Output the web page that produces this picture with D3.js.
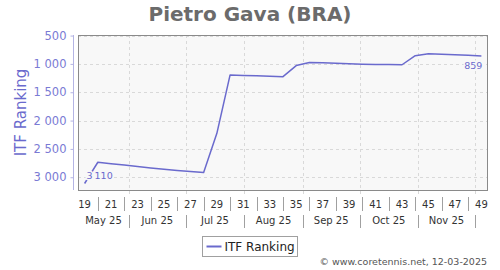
<!DOCTYPE html>
<html>
<head>
<meta charset="utf-8">
<script src="https://cdn.jsdelivr.net/npm/d3@7"></script>
<style>
  body { margin: 0; background: #fff; }
  svg { display: block; font-family: "DejaVu Sans", sans-serif; }
</style>
</head>
<body>
<svg id="chart" width="500" height="270"></svg>
<script>
const TITLE = "Pietro Gava (BRA)";
const Y_LABEL = "ITF Ranking";
const CREDIT = "© www.coretennis.net, 12-03-2025";

// ISO weeks of 2025
const weeks = [19, 20, 21, 22, 23, 24, 25, 26, 27, 28, 29, 30, 31, 32, 33, 34,
  35, 36, 37, 38, 39, 40, 41, 42, 43, 44, 45, 46, 47, 48, 49];
const ranking = [3110, 2735, 2760, 2785, 2810, 2835, 2860, 2880, 2900, 2915, 2225,
  1195, 1203, 1210, 1217, 1225, 1030, 975, 978, 990, 998, 1005, 1010, 1012, 1015,
  855, 822, 830, 840, 848, 859];
const yTicks = [500, 1000, 1500, 2000, 2500, 3000];
const monthLabels = ["May 25", "Jun 25", "Jul 25", "Aug 25", "Sep 25", "Oct 25", "Nov 25"];
const monthStarts = ["2025-05-01", "2025-06-01", "2025-07-01", "2025-08-01",
  "2025-09-01", "2025-10-01", "2025-11-01", "2025-12-01"];

const width = 500;
const height = 270;
const marginLeft = 78;
const marginRight = 12;
const marginTop = 35;
const plotBottom = 190;
const lineColor = "#6a6acd";

// middle of an ISO week (thursday noon)
const weekMid = (w) => new Date(2024, 11, 30 + (w - 1) * 7 + 3, 12);
const weekStart = (w) => new Date(2024, 11, 30 + (w - 1) * 7);
const parseDay = d3.timeParse("%Y-%m-%d");

const data = weeks.map((w, i) => ({ week: w, date: weekMid(w), value: ranking[i] }));

const svg = d3.select("#chart");

const x = d3
  .scaleTime()
  .domain([weekStart(weeks[0]), weekStart(weeks[weeks.length - 1] + 1)])
  .range([marginLeft, width - marginRight]);

const y = d3
  .scaleLinear()
  .domain([490, 3225])
  .range([marginTop, plotBottom]);

const fmt = (v) => d3.format(",")(v).replace(/,/g, " ");
const fmtThin = (v) => d3.format(",")(v).replace(/,/g, "\u2009");

// title
svg
  .append("text")
  .attr("x", width / 2)
  .attr("y", 21)
  .attr("text-anchor", "middle")
  .attr("font-size", 20)
  .attr("font-weight", "bold")
  .attr("fill", "#6b6b6b")
  .text(TITLE);

// plot background
svg
  .append("rect")
  .attr("x", marginLeft)
  .attr("y", marginTop)
  .attr("width", width - marginRight - marginLeft)
  .attr("height", plotBottom - marginTop)
  .attr("fill", "#f8f8f8");

// grid
const grid = svg
  .append("g")
  .attr("stroke", "#d9d9d9")
  .attr("stroke-dasharray", "3,3")
  .attr("stroke-width", 1);

grid
  .selectAll("line.h")
  .data(yTicks)
  .join("line")
  .attr("class", "h")
  .attr("x1", marginLeft)
  .attr("x2", width - marginRight)
  .attr("y1", (d) => Math.round(y(d)) + 0.5)
  .attr("y2", (d) => Math.round(y(d)) + 0.5);

const monthDates = monthStarts.map(parseDay);
const visibleMonths = monthDates.filter((d) => x(d) > marginLeft && x(d) < width - marginRight);

grid
  .selectAll("line.v")
  .data(visibleMonths)
  .join("line")
  .attr("class", "v")
  .attr("x1", (d) => Math.round(x(d)) + 0.5)
  .attr("x2", (d) => Math.round(x(d)) + 0.5)
  .attr("y1", marginTop)
  .attr("y2", plotBottom + 7);

// frame
svg
  .append("rect")
  .attr("x", marginLeft + 0.5)
  .attr("y", marginTop + 0.5)
  .attr("width", width - marginRight - marginLeft - 1)
  .attr("height", plotBottom - marginTop)
  .attr("fill", "none")
  .attr("stroke", "#8a8a8a");

// y axis
const yAxis = svg
  .append("g")
  .attr("transform", `translate(73.5,0)`)
  .call(d3.axisLeft(y).tickValues(yTicks).tickSize(3).tickPadding(4).tickFormat(fmt));
yAxis.select(".domain").attr("stroke", "#b4b4e4").attr("d", `M0,${marginTop}V${plotBottom}`);
yAxis.selectAll(".tick line").attr("stroke", "#b4b4e4");
yAxis
  .selectAll(".tick text")
  .attr("fill", "#7a7ad4")
  .attr("font-size", 11.5)
  .attr("font-family", "DejaVu Sans");

svg
  .append("text")
  .attr("transform", `translate(26,${(marginTop + plotBottom) / 2}) rotate(-90)`)
  .attr("text-anchor", "middle")
  .attr("font-size", 15)
  .attr("fill", lineColor)
  .text(Y_LABEL);

// x axis: week numbers
const xAxis = svg.append("g");
const labelWeeks = weeks.filter((w) => w % 2 === 1);
const sepWeeks = weeks.filter((w) => w % 2 === 0);

xAxis
  .selectAll("text.week")
  .data(labelWeeks)
  .join("text")
  .attr("class", "week")
  .attr("x", (w) => x(weekMid(w)))
  .attr("y", 208)
  .attr("text-anchor", "middle")
  .attr("font-size", 10)
  .attr("fill", "#333")
  .text((w) => w);

xAxis
  .selectAll("line.wsep")
  .data(sepWeeks)
  .join("line")
  .attr("class", "wsep")
  .attr("x1", (w) => Math.round(x(weekMid(w))) + 0.5)
  .attr("x2", (w) => Math.round(x(weekMid(w))) + 0.5)
  .attr("y1", 197)
  .attr("y2", 211)
  .attr("stroke", "#a0a0a0");

// x axis: months
const months = monthLabels.map((label, i) => {
  const a = Math.max(x(monthDates[i]), marginLeft);
  const b = Math.min(x(monthDates[i + 1]), width - marginRight);
  return { label, mid: (a + b) / 2 };
});

xAxis
  .selectAll("text.month")
  .data(months)
  .join("text")
  .attr("class", "month")
  .attr("x", (d) => d.mid)
  .attr("y", 224)
  .attr("text-anchor", "middle")
  .attr("font-size", 10)
  .attr("fill", "#333")
  .text((d) => d.label);

xAxis
  .selectAll("line.msep")
  .data(visibleMonths)
  .join("line")
  .attr("class", "msep")
  .attr("x1", (d) => Math.round(x(d)) + 0.5)
  .attr("x2", (d) => Math.round(x(d)) + 0.5)
  .attr("y1", 215)
  .attr("y2", 228)
  .attr("stroke", "#a0a0a0");

// line
const line = d3
  .line()
  .x((d) => x(d.date))
  .y((d) => y(d.value));

svg
  .append("path")
  .datum(data)
  .attr("fill", "none")
  .attr("stroke", lineColor)
  .attr("stroke-width", 1.5)
  .attr("stroke-linejoin", "round")
  .attr("d", line);

// first / last value labels
const first = data[0];
const last = data[data.length - 1];
const valueLabels = [
  { d: first, anchor: "start", dx: 2, dy: -4 },
  { d: last, anchor: "end", dx: 1, dy: 13 },
];
svg
  .selectAll("text.vlabel")
  .data(valueLabels)
  .join("text")
  .attr("class", "vlabel")
  .attr("x", (l) => x(l.d.date) + l.dx)
  .attr("y", (l) => y(l.d.value) + l.dy)
  .attr("text-anchor", (l) => l.anchor)
  .attr("font-size", 9.5)
  .attr("fill", lineColor)
  .attr("stroke", "#f8f8f8")
  .attr("stroke-width", 3)
  .attr("paint-order", "stroke")
  .text((l) => fmtThin(l.d.value));

// legend
const legend = svg.append("g").attr("transform", "translate(202.5,236.5)");
legend
  .append("rect")
  .attr("width", 95)
  .attr("height", 20)
  .attr("fill", "#fff")
  .attr("stroke", "#a0a0a0");
legend
  .append("line")
  .attr("x1", 4)
  .attr("x2", 19)
  .attr("y1", 10)
  .attr("y2", 10)
  .attr("stroke", lineColor)
  .attr("stroke-width", 2);
legend
  .append("text")
  .attr("x", 22)
  .attr("y", 14.5)
  .attr("font-size", 12)
  .attr("fill", "#222")
  .text(Y_LABEL);

// credit
svg
  .append("text")
  .attr("x", 487)
  .attr("y", 265)
  .attr("text-anchor", "end")
  .attr("font-size", 9.5)
  .attr("fill", "#555")
  .text(CREDIT);
</script>
</body>
</html>
